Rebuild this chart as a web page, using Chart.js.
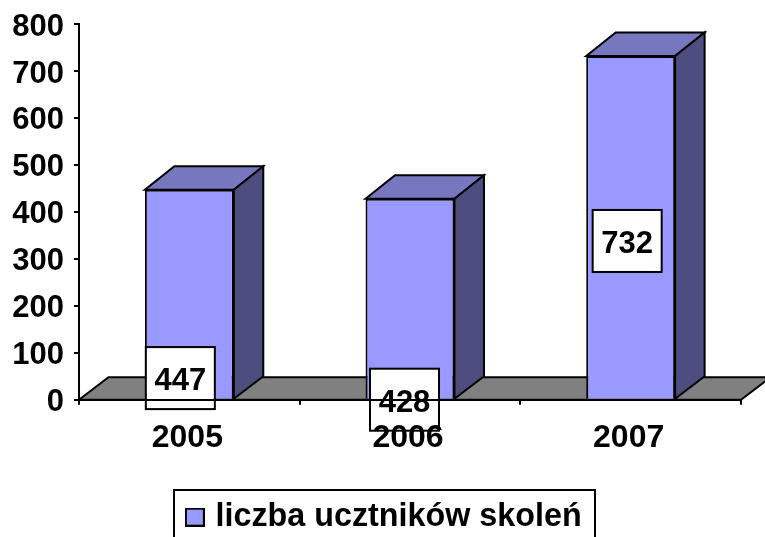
<!DOCTYPE html>
<html><head><meta charset="utf-8">
<style>html,body{margin:0;padding:0;background:#fff;overflow:hidden}#w{width:765px;height:537px}</style>
<script src="https://cdn.jsdelivr.net/npm/chart.js@4"></script>
</head><body><div id="w"><canvas id="c" width="765" height="537"></canvas></div>
<script>
const categories = ["2005", "2006", "2007"];
const seriesName = "liczba ucztników skoleń";
const values = [447, 428, 732];
const yTicks = [0, 100, 200, 300, 400, 500, 600, 700, 800];
const labelAnchors = [46, 0, 338];
const labelShifts = [-9, -5.5, -3.5];

const FONT = "Liberation Sans";
const DX = 29.5, DY_TOP = 23.5, DY_BASE = 22.5;

const swatch = document.createElement("canvas");
swatch.width = 20; swatch.height = 19;
(function () {
  const s = swatch.getContext("2d");
  s.fillStyle = "#9999FF"; s.fillRect(1, 1, 18, 17);
  s.strokeStyle = "#000"; s.lineWidth = 2; s.strokeRect(1, 1, 18, 17);
})();

const plugin3d = {
  id: "plugin3d",
  beforeDraw(chart) {
    const lg = chart.legend;
    lg.top = 489; lg.bottom = 537;
    lg.left = 7; lg.right = 765;
  },
  beforeDatasetsDraw(chart) {
    const { ctx, chartArea: a } = chart;
    const y0 = chart.scales.y.getPixelForValue(0);
    ctx.save();
    ctx.lineWidth = 2; ctx.strokeStyle = "#000"; ctx.lineJoin = "miter";
    ctx.beginPath();
    ctx.moveTo(a.left, y0); ctx.lineTo(a.left + DX, y0 - DY_BASE);
    ctx.lineTo(a.right + DX, y0 - DY_BASE); ctx.lineTo(a.right, y0); ctx.closePath();
    ctx.fillStyle = "#808080"; ctx.fill(); ctx.stroke();
    chart.getDatasetMeta(0).data.forEach(b => {
      const l = b.x - b.width / 2, r = b.x + b.width / 2, t = b.y, bot = b.base;
      ctx.beginPath();
      ctx.moveTo(l, t); ctx.lineTo(l + DX, t - DY_TOP); ctx.lineTo(r + DX, t - DY_TOP); ctx.lineTo(r, t); ctx.closePath();
      ctx.fillStyle = "#7777BF"; ctx.fill(); ctx.stroke();
      ctx.beginPath();
      ctx.moveTo(r, t); ctx.lineTo(r + DX, t - DY_TOP); ctx.lineTo(r + DX, bot - DY_BASE); ctx.lineTo(r, bot); ctx.closePath();
      ctx.fillStyle = "#4D4D80"; ctx.fill(); ctx.stroke();
    });
    ctx.restore();
  },
  afterDatasetsDraw(chart) {
    const { ctx } = chart;
    const sy = chart.scales.y;
    ctx.save();
    chart.getDatasetMeta(0).data.forEach((b, i) => {
      const cx = b.x + labelShifts[i], cy = sy.getPixelForValue(labelAnchors[i]);
      const w = 69, h = 62;
      ctx.fillStyle = "#fff"; ctx.strokeStyle = "#000"; ctx.lineWidth = 2;
      ctx.fillRect(cx - w / 2, cy - h / 2, w, h);
      ctx.strokeRect(cx - w / 2, cy - h / 2, w, h);
      ctx.fillStyle = "#000";
      ctx.font = "bold 31px '" + FONT + "'";
      ctx.textAlign = "center"; ctx.textBaseline = "middle";
      ctx.fillText(String(values[i]), cx, cy + 3.5);
    });
    ctx.restore();
  },
  afterDraw(chart) {
    const { ctx } = chart;
    ctx.save();
    ctx.strokeStyle = "#000"; ctx.lineWidth = 2;
    ctx.strokeRect(174, 490, 421, 60);
    ctx.restore();
  }
};

new Chart(document.getElementById("c"), {
  type: "bar",
  data: {
    labels: categories,
    datasets: [{
      label: seriesName, data: values,
      backgroundColor: "#9999FF", borderColor: "#000", borderWidth: 2,
      barPercentage: 0.403, categoryPercentage: 1
    }]
  },
  plugins: [plugin3d],
  options: {
    responsive: false, animation: false,
    layout: { padding: { top: 24, right: 24, left: 0, bottom: 0 } },
    plugins: {
      tooltip: { enabled: false },
      legend: {
        display: true, position: "bottom",
        labels: {
          font: { family: FONT, size: 32.3, weight: "bold" }, color: "#000",
          usePointStyle: true, pointStyle: swatch, pointStyleWidth: 9,
          boxHeight: 18, padding: 12
        }
      }
    },
    scales: {
      x: {
        offset: true,
        afterFit(s) { s.height = 83; s.paddingLeft = 0; s.paddingRight = 0; },
        border: { color: "#000", width: 2, z: 1 },
        grid: { drawOnChartArea: false, color: "#000", lineWidth: 2, tickLength: 5, z: 1 },
        ticks: { color: "#000", font: { family: FONT, size: 32, weight: "bold" }, padding: 14, labelOffset: -2, maxRotation: 0, z: 1 }
      },
      y: {
        min: 0, max: 800,
        afterFit(s) { s.width = 79; s.paddingTop = 0; s.paddingBottom = 0; },
        afterBuildTicks(s) { s.ticks = yTicks.map(v => ({ value: v })); },
        border: { color: "#000", width: 2 },
        grid: { drawOnChartArea: false, color: "#000", lineWidth: 2, tickLength: 5 },
        ticks: { color: "#000", font: { family: FONT, size: 31, weight: "bold" }, padding: 10, labelOffset: 3 }
      }
    }
  }
});
</script></body></html>
